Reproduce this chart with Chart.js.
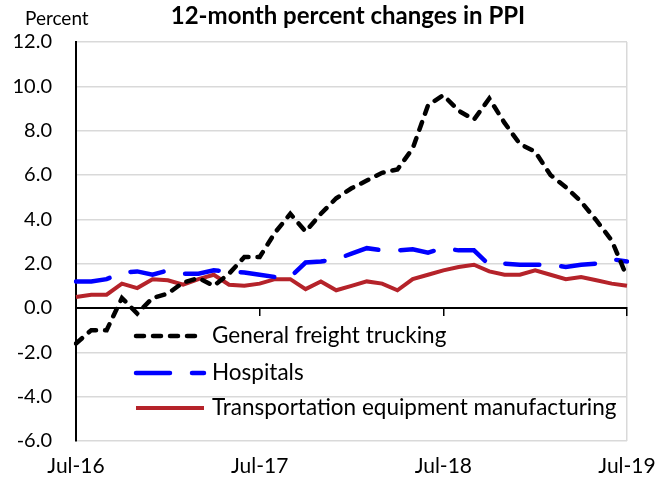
<!DOCTYPE html>
<html>
<head>
<meta charset="utf-8">
<script src="https://cdn.jsdelivr.net/npm/chart.js@4/dist/chart.umd.min.js"></script>
<style>
  html, body { margin: 0; padding: 0; background: #ffffff; }
  #wrap { width: 670px; height: 478px; position: relative; }
</style>
</head>
<body>
<div id="wrap"><canvas id="ppiChart"></canvas></div>
<script>
// Monthly labels, Jul-16 .. Jul-19
const months = [
  'Jul-16', 'Aug-16', 'Sep-16', 'Oct-16', 'Nov-16', 'Dec-16',
  'Jan-17', 'Feb-17', 'Mar-17', 'Apr-17', 'May-17', 'Jun-17',
  'Jul-17', 'Aug-17', 'Sep-17', 'Oct-17', 'Nov-17', 'Dec-17',
  'Jan-18', 'Feb-18', 'Mar-18', 'Apr-18', 'May-18', 'Jun-18',
  'Jul-18', 'Aug-18', 'Sep-18', 'Oct-18', 'Nov-18', 'Dec-18',
  'Jan-19', 'Feb-19', 'Mar-19', 'Apr-19', 'May-19', 'Jun-19',
  'Jul-19'
];

// 12-month percent changes
const freightTrucking = [
  -1.6, -1.0, -1.0, 0.45, -0.25, 0.45, 0.65, 1.15, 1.35, 1.0, 1.55, 2.3,
  2.3, 3.4, 4.25, 3.45, 4.25, 4.95, 5.4, 5.75, 6.1, 6.25, 7.2, 9.15,
  9.6, 8.9, 8.5, 9.45, 8.35, 7.4, 7.05, 6.0, 5.45, 4.8, 3.95, 3.05,
  1.4
];
const hospitals = [
  1.2, 1.2, 1.3, 1.6, 1.65, 1.5, 1.7, 1.55, 1.55, 1.7, 1.65, 1.6,
  1.5, 1.4, 1.4, 2.05, 2.1, 2.2, 2.45, 2.7, 2.6, 2.6, 2.65, 2.5,
  2.7, 2.6, 2.6, 1.95, 2.0, 1.95, 1.95, 1.95, 1.85, 1.95, 2.0, 2.2,
  2.1
];
const transportEquip = [
  0.5, 0.6, 0.6, 1.1, 0.9, 1.3, 1.25, 1.05, 1.3, 1.5, 1.05, 1.0,
  1.1, 1.3, 1.3, 0.85, 1.2, 0.8, 1.0, 1.2, 1.1, 0.8, 1.3, 1.5,
  1.7, 1.85, 1.95, 1.65, 1.5, 1.5, 1.7, 1.5, 1.3, 1.4, 1.25, 1.1,
  1.0
];

const seriesNames = ['General freight trucking', 'Hospitals', 'Transportation equipment manufacturing'];
const yTicks = [-6, -4, -2, 0, 2, 4, 6, 8, 10, 12];

const FONT = 'Lato, sans-serif';
const GRID = '#d9d9d9';

// Title, "Percent" label and the legend sitting inside the plot
const textPlugin = {
  id: 'ppiText',
  afterDraw(chart) {
    const c = chart.ctx;
    c.save();
    c.fillStyle = '#000';
    c.textBaseline = 'alphabetic';
    c.font = '19px ' + FONT;
    c.textAlign = 'left';
    c.fillText('Percent', 25, 25);
    c.font = 'bold 24px ' + FONT;
    c.textAlign = 'center';
    c.fillText('12-month percent changes in PPI', 348, 24);

    // legend rows
    const rows = [336, 373, 408];
    c.textBaseline = 'middle';
    chart.data.datasets.forEach((ds, i) => {
      const y = rows[i];
      c.save();
      c.strokeStyle = ds.borderColor;
      c.lineWidth = ds.borderWidth;
      c.lineCap = ds.borderCapStyle || 'butt';
      c.setLineDash(ds.borderDash || []);
      c.beginPath();
      c.moveTo(136, y);
      c.lineTo(204, y);
      c.stroke();
      c.restore();
      c.font = '22.5px ' + FONT;
      c.textAlign = 'left';
      c.fillText(ds.label, 212, y);
    });
    c.restore();
  }
};

const ctx = document.getElementById('ppiChart');

new Chart(ctx, {
  type: 'line',
  data: {
    labels: months,
    datasets: [
      {
        label: seriesNames[0],
        data: freightTrucking,
        borderColor: '#000000',
        borderWidth: 4.5,
        borderDash: [8, 9],
        borderCapStyle: 'round'
      },
      {
        label: seriesNames[1],
        data: hospitals,
        borderColor: '#0000ff',
        borderWidth: 4.5,
        borderDash: [34, 22],
        borderCapStyle: 'round'
      },
      {
        label: seriesNames[2],
        data: transportEquip,
        borderColor: '#b5232a',
        borderWidth: 4,
        borderCapStyle: 'butt'
      }
    ]
  },
  plugins: [textPlugin],
  options: {
    responsive: true,
    maintainAspectRatio: false,
    animation: false,
    layout: {
      padding: { top: 42, right: 43, bottom: 0, left: 0 }
    },
    elements: {
      point: { radius: 0 },
      line: { tension: 0, fill: false }
    },
    plugins: {
      legend: { display: false },
      title: { display: false },
      tooltip: { enabled: false }
    },
    scales: {
      x: {
        type: 'category',
        position: 'bottom',
        offset: false,
        afterFit: (scale) => { scale.height = 37; },
        border: { display: false },
        grid: {
          drawTicks: false,
          lineWidth: 1.5,
          color: (c) => (c.index === months.length - 1 ? GRID : 'rgba(0,0,0,0)')
        },
        ticks: {
          autoSkip: false,
          maxRotation: 0,
          padding: 13,
          color: '#000',
          font: { family: FONT, size: 21 },
          callback: function (value, index) {
            return index % 12 === 0 ? months[index] : '';
          }
        }
      },
      xZero: {
        type: 'category',
        position: { y: 0 },
        offset: false,
        border: { display: true, color: '#000', width: 2 },
        grid: {
          drawOnChartArea: false,
          drawTicks: true,
          tickLength: 7,
          lineWidth: 1.5,
          color: (c) => (c.index > 0 && c.index % 12 === 0 ? '#000' : 'rgba(0,0,0,0)')
        },
        ticks: { display: false, autoSkip: false }
      },
      y: {
        min: yTicks[0],
        max: yTicks[yTicks.length - 1],
        afterFit: (scale) => { scale.width = 76; },
        afterBuildTicks: (scale) => { scale.ticks = yTicks.map(v => ({ value: v })); },
        border: { display: true, color: '#000', width: 2 },
        grid: {
          drawTicks: false,
          lineWidth: 1.5,
          color: (c) => (c.tick && c.tick.value === 0 ? '#000' : GRID)
        },
        ticks: {
          padding: 24,
          color: '#000',
          font: { family: FONT, size: 20 },
          callback: (v) => Number(v).toFixed(1)
        }
      }
    }
  }
});
</script>
</body>
</html>
